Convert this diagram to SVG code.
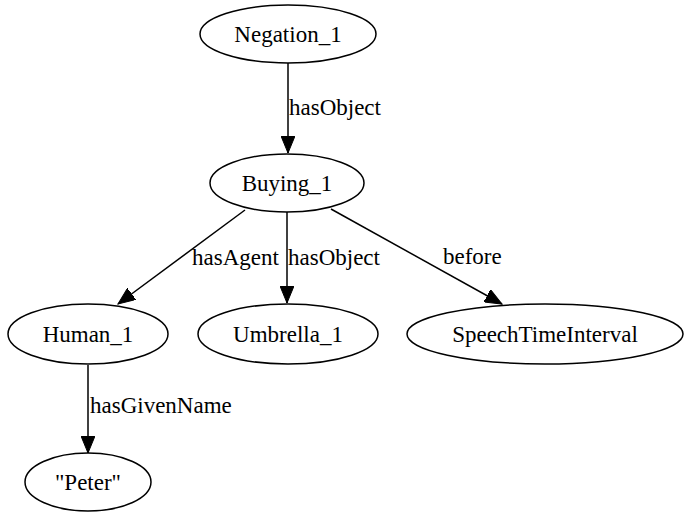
<svg xmlns="http://www.w3.org/2000/svg" width="684" height="512" viewBox="0 0 684 512">
  <style>
    .node ellipse { fill: #ffffff; stroke: #000000; stroke-width: 1.5; }
    .edge line { stroke: #000000; stroke-width: 1.5; }
  </style>
  <defs>
    <marker id="arrow" markerUnits="userSpaceOnUse" markerWidth="18" markerHeight="14" refX="17" refY="7" orient="auto">
      <polygon points="0,0 17,7 0,14" fill="#000000" stroke="#000000" stroke-width="1"/>
    </marker>
  </defs>
  <rect width="684" height="512" fill="#ffffff"/>

  <g id="connectors">
    <g class="edge" id="e-negation-buying">
      <line x1="288" y1="63" x2="288" y2="153" marker-end="url(#arrow)"/>
      <text x="289" y="115" font-family="Liberation Serif, serif" font-size="23">hasObject</text>
    </g>
    <g class="edge" id="e-buying-human">
      <line x1="245" y1="210" x2="118" y2="304" marker-end="url(#arrow)"/>
      <text x="192" y="265" font-family="Liberation Serif, serif" font-size="23">hasAgent</text>
    </g>
    <g class="edge" id="e-buying-umbrella">
      <line x1="287" y1="212" x2="287" y2="303" marker-end="url(#arrow)"/>
      <text x="288" y="265" font-family="Liberation Serif, serif" font-size="23">hasObject</text>
    </g>
    <g class="edge" id="e-buying-speech">
      <line x1="331" y1="209" x2="502" y2="304" marker-end="url(#arrow)"/>
      <text x="443" y="264" font-family="Liberation Serif, serif" font-size="23">before</text>
    </g>
    <g class="edge" id="e-human-peter">
      <line x1="88" y1="365" x2="88" y2="453" marker-end="url(#arrow)"/>
      <text x="90" y="413" font-family="Liberation Serif, serif" font-size="23">hasGivenName</text>
    </g>
  </g>

  <g class="node" id="negation_1">
    <ellipse cx="288" cy="34" rx="88" ry="29"/>
    <text x="288" y="42" text-anchor="middle" font-family="Liberation Serif, serif" font-size="23">Negation_1</text>
  </g>
  <g class="node" id="buying_1">
    <ellipse cx="287" cy="183" rx="77" ry="29"/>
    <text x="287" y="191" text-anchor="middle" font-family="Liberation Serif, serif" font-size="23">Buying_1</text>
  </g>
  <g class="node" id="human_1">
    <ellipse cx="88" cy="334" rx="80" ry="30"/>
    <text x="88" y="342" text-anchor="middle" font-family="Liberation Serif, serif" font-size="23">Human_1</text>
  </g>
  <g class="node" id="umbrella_1">
    <ellipse cx="288" cy="334" rx="90" ry="30"/>
    <text x="288" y="342" text-anchor="middle" font-family="Liberation Serif, serif" font-size="23">Umbrella_1</text>
  </g>
  <g class="node" id="speech_time_interval">
    <ellipse cx="545" cy="334" rx="138" ry="30"/>
    <text x="545" y="342" text-anchor="middle" font-family="Liberation Serif, serif" font-size="23">SpeechTimeInterval</text>
  </g>
  <g class="node" id="peter">
    <ellipse cx="88" cy="482" rx="63" ry="29"/>
    <text x="88" y="490" text-anchor="middle" font-family="Liberation Serif, serif" font-size="23">"Peter"</text>
  </g>
</svg>
